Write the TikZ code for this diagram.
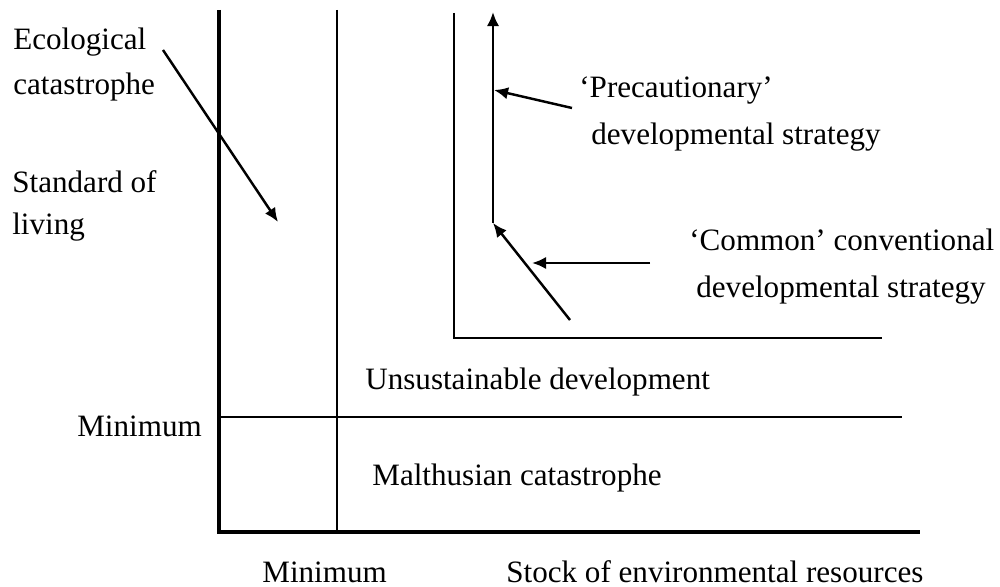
\documentclass[tikz,border=0pt]{standalone}
\usepackage{fontspec}
\setmainfont{Liberation Serif}
\usetikzlibrary{arrows.meta}
\begin{document}
\begin{tikzpicture}[x=0.02cm,y=-0.02cm,
  axis/.style={line width=2.6pt},
  thinline/.style={line width=1.4pt},
  arr/.style={line width=1.4pt,-{Latex[length=8pt,width=7pt]}},
  lbl/.style={inner sep=0pt,anchor=base west,font=\fontsize{17.7}{21}\selectfont}]
\useasboundingbox (0,0) rectangle (1000,587);
% axes
\coordinate (O) at (219,532);
\coordinate (ytop) at (219,10);
\coordinate (xend) at (920,532);
\draw[axis] (ytop) -- (O) -- (xend);
% minimum thresholds
\coordinate (vmtop) at (337,10);
\coordinate (vmbot) at (337,532);
\draw[thinline] (vmtop) -- (vmbot);
\coordinate (hml) at (219,417);
\coordinate (hmr) at (902,417);
\draw[thinline] (hml) -- (hmr);
% inner frame
\coordinate (ftop) at (454,13);
\coordinate (fcorner) at (454,338);
\coordinate (fright) at (882,338);
\draw[thinline] (ftop) -- (fcorner) -- (fright);
% development paths
\coordinate (pstart) at (570,320);
\coordinate (pkink) at (493,223);
\coordinate (ptop) at (493,12);
\draw[arr] (pstart) -- (pkink);
\draw[arr] (pkink) -- (ptop);
% labels
\node[lbl] (eco1) at (13,50) {Ecological};
\node[lbl] (eco2) at (13,95) {catastrophe};
\node[lbl] (sol1) at (12,193) {Standard of};
\node[lbl] (sol2) at (12,235) {living};
\node[lbl] (minl) at (77,436) {Minimum};
\node[lbl] (unsus) at (365,389) {Unsustainable development};
\node[lbl] (malth) at (372,485) {Malthusian catastrophe};
\node[lbl] (minb) at (262,582) {Minimum};
\node[lbl] (stock) at (506,582) {Stock of environmental resources};
\node[lbl] (prec1) at (579,98) {‘Precautionary’};
\node[lbl] (prec2) at (591,145) {developmental strategy};
\node[lbl] (comm1) at (689,251) {‘Common’ conventional};
\node[lbl] (comm2) at (696,297) {developmental strategy};
% pointers
\coordinate (ecoA) at (163,50);
\coordinate (ecoB) at (278,222);
\draw[arr] (ecoA) -- (ecoB);
\coordinate (precA) at (572,108);
\coordinate (precB) at (494,90);
\draw[arr] (precA) -- (precB);
\coordinate (commA) at (650,263);
\coordinate (commB) at (532,263);
\draw[arr] (commA) -- (commB);
\end{tikzpicture}
\end{document}
